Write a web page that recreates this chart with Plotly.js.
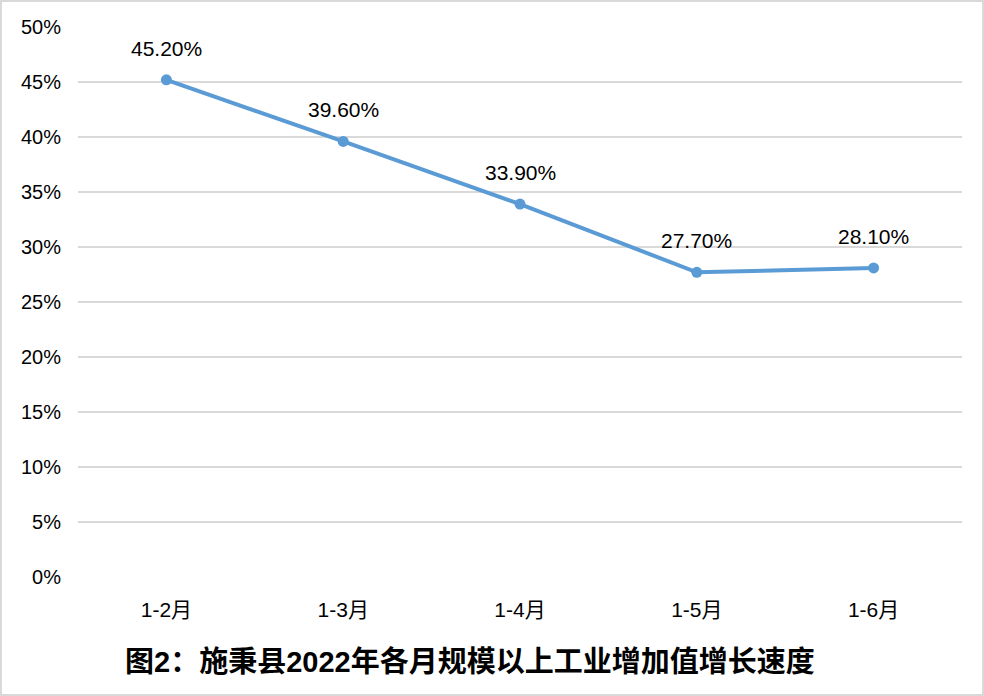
<!DOCTYPE html>
<html><head><meta charset="utf-8">
<script src="https://cdn.plot.ly/plotly-3.0.1.min.js"></script>
<style>
html,body{margin:0;padding:0;background:#fff;}
#wrap{position:absolute;left:0;top:0;width:984px;height:696px;border:2px solid #d9d9d9;box-sizing:border-box;}
#chart{width:980px;height:692px;}
</style></head>
<body><div id="wrap"><div id="chart"></div></div>
<script>
const categories = ["1-2月","1-3月","1-4月","1-5月","1-6月"];
const growth = [45.2, 39.6, 33.9, 27.7, 28.1];
const labels = ["45.20%","39.60%","33.90%","27.70%","28.10%"];
const yTicks = [0,5,10,15,20,25,30,35,40,45,50];
const yTickText = yTicks.map(v => v + "%");
const titleText = "<b>图2：施秉县2022年各月规模以上工业增加值增长速度</b>";

const FONT = '"Liberation Sans", "Noto Sans CJK SC", sans-serif';

const trace = {
  x: categories, y: growth, type: 'scatter', mode: 'lines+markers',
  line: {color: '#5b9bd5', width: 4},
  marker: {color: '#5b9bd5', size: 11},
  hoverinfo: 'skip'
};

const annotations = categories.map((c, i) => ({
  x: c, y: growth[i], xref: 'x', yref: 'y', text: labels[i],
  showarrow: false, yanchor: 'bottom', yshift: 18,
  font: {family: FONT, size: 21, color: '#000'}
}));
annotations.push({
  xref: 'paper', yref: 'paper', x: 0.443, y: -0.155, xanchor: 'center', yanchor: 'middle',
  text: titleText, showarrow: false,
  font: {family: FONT, size: 29, color: '#000'}
});

const layout = {
  width: 980, height: 692,
  margin: {l: 76, r: 20, t: 25, b: 117},
  paper_bgcolor: '#fff', plot_bgcolor: '#fff',
  showlegend: false,
  font: {family: FONT, color: '#000'},
  xaxis: {
    type: 'category', range: [-0.5, 4.5], showgrid: false, zeroline: false,
    showline: false, ticks: '', ticklabelstandoff: 18,
    tickfont: {family: FONT, size: 21, color: '#000'}
  },
  yaxis: {
    range: [0, 50], tickvals: yTicks, ticktext: yTickText,
    showgrid: true, gridcolor: '#d9d9d9', gridwidth: 1.5,
    zeroline: false, showline: false, ticks: '', ticklabelstandoff: 16,
    tickfont: {family: FONT, size: 20, color: '#000'}
  },
  annotations: annotations
};

Plotly.newPlot('chart', [trace], layout, {displayModeBar: false, staticPlot: true});
</script></body></html>
